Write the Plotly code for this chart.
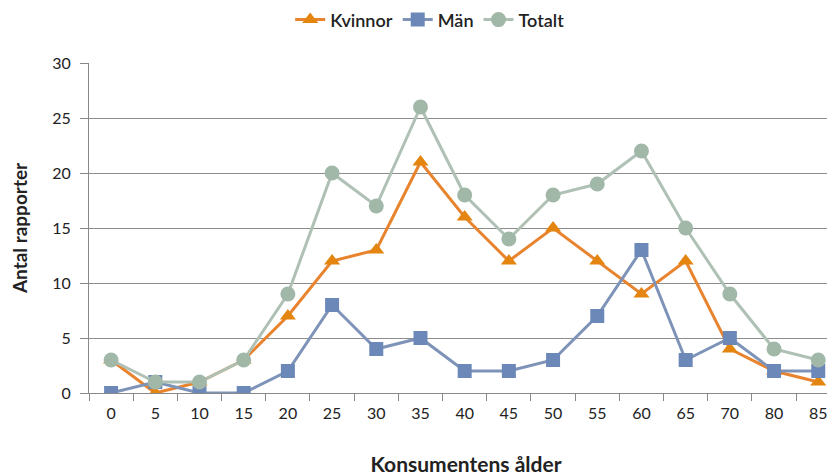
import plotly.graph_objects as go

categories = ["0", "5", "10", "15", "20", "25", "30", "35", "40", "45", "50", "55", "60", "65", "70", "80", "85"]
kvinnor = [3, 0, 1, 3, 7, 12, 13, 21, 16, 12, 15, 12, 9, 12, 4, 2, 1]
man = [0, 1, 0, 0, 2, 8, 4, 5, 2, 2, 3, 7, 13, 3, 5, 2, 2]
totalt = [3, 1, 1, 3, 9, 20, 17, 26, 18, 14, 18, 19, 22, 15, 9, 4, 3]
y_ticks = [0, 5, 10, 15, 20, 25, 30]

font_family = "Lato, Open Sans, sans-serif"

fig = go.Figure()
fig.add_trace(go.Scatter(
    x=categories, y=kvinnor, name="Kvinnor", mode="lines+markers",
    line=dict(color="#E8832E", width=3),
    marker=dict(symbol="triangle-up", size=14, color="#E4850F"),
))
fig.add_trace(go.Scatter(
    x=categories, y=man, name="Män", mode="lines+markers",
    line=dict(color="#7E93B8", width=3),
    marker=dict(symbol="square", size=14, color="#6C88B8"),
))
fig.add_trace(go.Scatter(
    x=categories, y=totalt, name="Totalt", mode="lines+markers",
    line=dict(color="#AFC0B5", width=3),
    marker=dict(symbol="circle", size=15, color="#A1B8A8"),
))

fig.update_layout(
    width=835, height=476,
    margin=dict(l=81, r=0, t=55, b=91, autoexpand=False),
    paper_bgcolor="white", plot_bgcolor="white",
    font=dict(family=font_family, size=15, color="#222"),
    showlegend=True,
    legend=dict(orientation="h", x=0.505, xanchor="center", y=0.975, yanchor="middle",
                yref="container", xref="container",
                font=dict(size=18, color="#222", weight=600),
                traceorder="normal"),
    xaxis=dict(
        type="category", range=[-0.5, 16.56], automargin=False,
        showgrid=False, showline=True, linecolor="#888", linewidth=1,
        ticks="outside", ticklen=7, tickcolor="#888", tickson="boundaries",
        ticklabelstandoff=6,
        tickfont=dict(size=16, color="#222"),
        title=dict(text="<b>Konsumentens ålder</b>", font=dict(size=21, color="#222"), standoff=36),
        zeroline=False,
    ),
    yaxis=dict(
        range=[0, 30], tickvals=y_ticks, automargin=False,
        showgrid=True, gridcolor="#8C8C8C", gridwidth=1,
        showline=True, linecolor="#888", linewidth=1,
        ticks="outside", ticklen=8, tickcolor="#888",
        ticklabelstandoff=6,
        tickfont=dict(size=16, color="#222"),
        title=dict(text="<b>Antal rapporter</b>", font=dict(size=19, color="#222"), standoff=22),
        zeroline=False,
    ),
)

fig.write_html("out.html")
